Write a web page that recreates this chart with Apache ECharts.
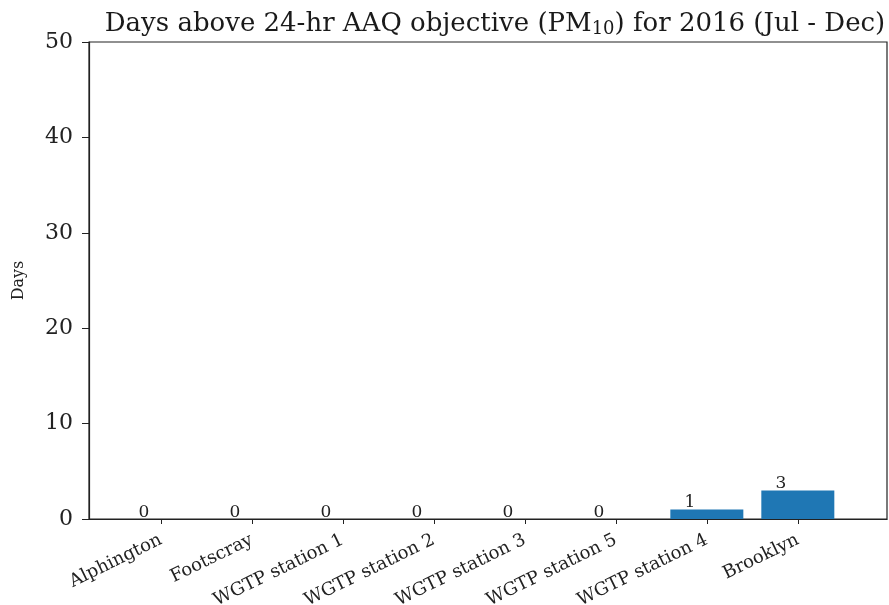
<!DOCTYPE html>
<html><head><meta charset="utf-8">
<script src="https://cdn.jsdelivr.net/npm/echarts@6/dist/echarts.min.js"></script>
<style>html,body{margin:0;padding:0;background:#fff}#c{width:889px;height:605px}</style>
</head><body><div id="c"></div>
<script>
const categories = ['Alphington','Footscray','WGTP station 1','WGTP station 2','WGTP station 3','WGTP station 5','WGTP station 4','Brooklyn'];
const days = [0,0,0,0,0,0,1,3];
const yTicks = [0,10,20,30,40,50];

const FONT = '"DejaVu Serif","Liberation Serif",serif';
const chart = echarts.init(document.getElementById('c'));
const idx = categories.map((_, i) => i);
chart.setOption({
  animation: false,
  backgroundColor: '#fff',
  title: {
    text: 'Days above 24-hr AAQ objective (PM{sub|10}) for 2016 (Jul - Dec)',
    left: 490, textAlign: 'center', top: 5,
    textStyle: {
      fontFamily: FONT, fontSize: 26, fontWeight: 'normal', color: '#1a1a1a',
      rich: { sub: { fontFamily: FONT, fontSize: 18, color: '#1a1a1a', verticalAlign: 'bottom', padding: [10,0,0,0] } }
    }
  },
  grid: { left: 89, right: 2, top: 42, bottom: 86, show: true, borderColor: '#222', borderWidth: 1.2,
    containLabel: false, outerBoundsMode: 'none' },
  xAxis: {
    type: 'value', min: -0.79, max: 7.98,
    splitLine: { show: false },
    axisLine: { show: true, onZero: false, lineStyle: { color: '#222', width: 1.2 } },
    axisTick: { show: true, customValues: idx, length: 5, inside: false, lineStyle: { color: '#222' } },
    axisLabel: {
      customValues: idx, rotate: 26, margin: 20,
      fontFamily: FONT, fontSize: 18, color: '#222',
      formatter: v => categories[Math.round(v)] || ''
    }
  },
  yAxis: {
    type: 'value', min: 0, max: 50, interval: 10,
    name: 'Days', nameLocation: 'middle', nameGap: 62, nameRotate: 90,
    nameTextStyle: { fontFamily: FONT, fontSize: 16, color: '#222' },
    splitLine: { show: false },
    axisLine: { show: true, onZero: false, lineStyle: { color: '#222', width: 1.2 } },
    axisTick: { show: true, length: 7, inside: false, lineStyle: { color: '#222' } },
    axisLabel: { fontFamily: FONT, fontSize: 22, color: '#222', margin: 16,
      formatter: v => yTicks.includes(v) ? String(v) : '' }
  },
  series: [{
    type: 'bar',
    data: days.map((d, i) => [i, d]),
    barWidth: 73,
    itemStyle: { color: '#1f77b4' },
    label: { show: true, position: 'top', distance: -2, formatter: p => String(p.value[1]),
      fontFamily: FONT, fontSize: 17, color: '#222', offset: [-17, 0] }
  }]
});
</script></body></html>
